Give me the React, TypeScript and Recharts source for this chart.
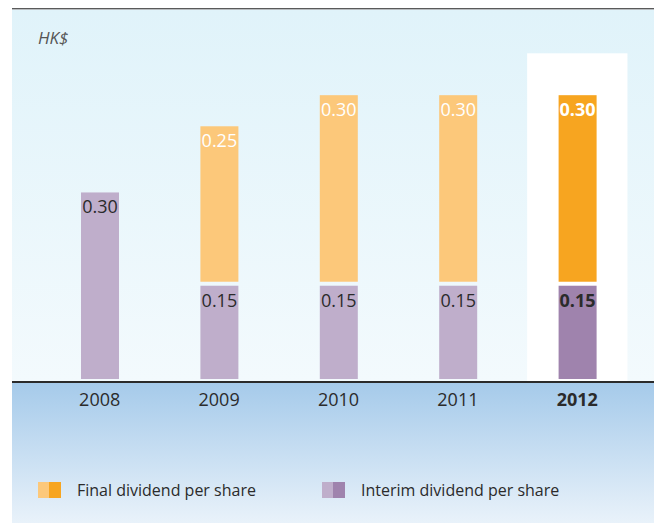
import React from 'react';
import { BarChart, Bar, XAxis, YAxis, Cell, LabelList, ReferenceArea, Legend } from 'recharts';

const years = ['2008', '2009', '2010', '2011', '2012'];
const interimValues = [0.3, 0.15, 0.15, 0.15, 0.15];
const finalValues: (number | null)[] = [null, 0.25, 0.3, 0.3, 0.3];
const highlightYear = '2012';
const highlightTop = 0.527;

const interimColors = ['#bfaecb', '#bfaecb', '#bfaecb', '#bfaecb', '#9f83ad'];
const finalColors = ['#fcc87a', '#fcc87a', '#fcc87a', '#fcc87a', '#f7a520'];

const data = years.map((year, i) => ({
  year,
  interim: interimValues[i],
  final: finalValues[i],
}));

const FONT = '"Open Sans", "Noto Sans", sans-serif';

const makeShape = (shift: number) => (props: any) => {
  const { x, y, width, height, fill } = props;
  if (!height || height <= 0) return null;
  return <rect x={x} y={y - shift} width={width} height={height} fill={fill} />;
};

const makeLabel = (shift: number, color: string) => (props: any) => {
  const { x, y, width, value, index } = props;
  if (value == null || value === 0) return null;
  const bold = years[index] === highlightYear;
  return (
    <text
      x={x + width / 2}
      y={y - shift + 21}
      textAnchor="middle"
      fill={color}
      fontFamily={FONT}
      fontSize={18}
      fontWeight={bold ? 700 : 400}
    >
      {Number(value).toFixed(2)}
    </text>
  );
};

const YearTick = (props: any) => {
  const { x, y, payload } = props;
  const bold = payload.value === highlightYear;
  return (
    <text
      x={x}
      y={y + 25}
      textAnchor="middle"
      fill="#2b2b2b"
      fontFamily={FONT}
      fontSize={18}
      fontWeight={bold ? 700 : 400}
    >
      {payload.value}
    </text>
  );
};

const HighlightShape = (props: any) => {
  const { x, y, width, height } = props;
  const inset = width * 0.08;
  return <rect x={x + inset} y={y} width={width - inset * 2} height={height} fill="#ffffff" />;
};

const legendItems = [
  { label: 'Final dividend per share', light: '#fcc87a', dark: '#f7a520', left: 38 },
  { label: 'Interim dividend per share', light: '#bfaecb', dark: '#9f83ad', left: 322 },
];

const LegendContent = () => (
  <div style={{ position: 'relative', width: 659, height: 24 }}>
    {legendItems.map((it) => (
      <div
        key={it.label}
        style={{ position: 'absolute', left: it.left, top: 0, display: 'flex', alignItems: 'center', height: 24 }}
      >
        <span style={{ display: 'inline-block', width: 11, height: 16, background: it.light }} />
        <span style={{ display: 'inline-block', width: 12, height: 16, background: it.dark }} />
        <span
          style={{
            marginLeft: 16,
            fontFamily: FONT,
            fontSize: 16,
            color: '#2b2b2b',
            whiteSpace: 'nowrap',
          }}
        >
          {it.label}
        </span>
      </div>
    ))}
  </div>
);

export default function App() {
  return (
    <div style={{ position: 'absolute', left: 0, top: 0, width: 659, height: 523, background: '#ffffff' }}>
      <div style={{ position: 'absolute', left: 12, top: 8, width: 642, height: 1, background: '#5a5a5a' }} />
      <div style={{ position: 'absolute', left: 12, top: 9, width: 642, height: 1, background: '#b8bcbf' }} />
      <div
        style={{
          position: 'absolute',
          left: 12,
          top: 10,
          width: 642,
          height: 371,
          background: 'linear-gradient(to bottom, #e0f3fa, #f3fafd)',
        }}
      />
      <div
        style={{
          position: 'absolute',
          left: 12,
          top: 382,
          width: 642,
          height: 141,
          background: 'linear-gradient(to bottom, #a5caea, #e9f2fa)',
        }}
      />
      <div
        style={{
          position: 'absolute',
          left: 38,
          top: 26,
          fontFamily: FONT,
          fontStyle: 'italic',
          fontSize: 17,
          color: '#555555',
        }}
      >
        HK$
      </div>
      <div style={{ position: 'absolute', left: 0, top: 0 }}>
        <BarChart
          width={659}
          height={523}
          data={data}
          margin={{ top: 39, right: 22, bottom: 112, left: 40 }}
          barSize={38}
        >
          <YAxis hide domain={[0, 0.55]} />
          <XAxis
            dataKey="year"
            axisLine={false}
            tickLine={false}
            tickSize={0}
            tickMargin={0}
            height={30}
            tick={<YearTick />}
            interval={0}
          />
          <ReferenceArea
            x1={highlightYear}
            x2={highlightYear}
            y1={0}
            y2={highlightTop}
            shape={<HighlightShape />}
            ifOverflow="visible"
          />
          <Bar dataKey="interim" stackId="a" isAnimationActive={false} shape={makeShape(2)}>
            {data.map((d, i) => (
              <Cell key={d.year} fill={interimColors[i]} />
            ))}
            <LabelList dataKey="interim" content={makeLabel(2, '#2b2b2b')} />
          </Bar>
          <Bar dataKey="final" stackId="a" isAnimationActive={false} shape={makeShape(6)}>
            {data.map((d, i) => (
              <Cell key={d.year} fill={finalColors[i]} />
            ))}
            <LabelList dataKey="final" content={makeLabel(6, '#ffffff')} />
          </Bar>
          <Legend
            layout="horizontal"
            verticalAlign="middle"
            align="center"
            content={<LegendContent />}
            wrapperStyle={{ position: 'absolute', left: 0, top: 478, width: 659, height: 24 }}
          />
        </BarChart>
      </div>
      <div style={{ position: 'absolute', left: 12, top: 381, width: 642, height: 1.5, background: '#2b2b2b' }} />
    </div>
  );
}
